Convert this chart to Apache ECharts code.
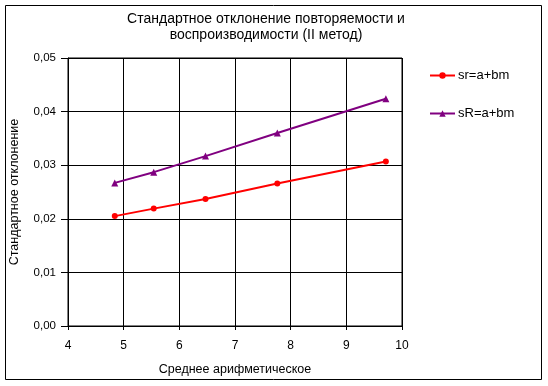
<!DOCTYPE html>
<html><head><meta charset="utf-8">
<script src="https://cdn.jsdelivr.net/npm/echarts@6/dist/echarts.min.js"></script>
<style>html,body{margin:0;padding:0;background:#fff}#c{width:548px;height:386px}</style>
</head><body><div id="c"></div>
<script>
const titleText = 'Стандартное отклонение повторяемости и\nвоспроизводимости (II метод)';
const xName = 'Среднее арифметическое';
const yName = 'Стандартное отклонение';
const xValues = [4.84, 5.54, 6.47, 7.76, 9.71];
const srValues = [0.0205, 0.0219, 0.0237, 0.0266, 0.0307];
const sRValues = [0.0267, 0.0287, 0.0317, 0.0360, 0.0424];
const seriesNames = ['sr=a+bm', 'sR=a+bm'];

const font = 'Arial, "Liberation Sans", sans-serif';
const chart = echarts.init(document.getElementById('c'), null, {renderer:'canvas'});
chart.setOption({
  animation:false,
  backgroundColor:'#fff',
  title:{text:titleText, left:261, top:6, textAlign:'center',
    textStyle:{fontFamily:font, fontSize:14, fontWeight:'normal', color:'#000', lineHeight:16}},
  legend:{orient:'vertical', left:424, top:64, itemGap:25, itemWidth:25, itemHeight:8,
    textStyle:{fontFamily:font, fontSize:13, color:'#000', padding:[0,0,0,-2]},
    data:[{name:seriesNames[0]},{name:seriesNames[1]}]},
  graphic:[{type:'rect', shape:{x:5.5,y:5.5,width:536,height:374}, style:{fill:'none', stroke:'#000', lineWidth:1}, z:-1}],
  grid:{left:65, right:146, top:58, bottom:60, show:true, borderColor:'#000', borderWidth:1},
  xAxis:{type:'value', min:4, max:10, interval:1, name:xName, nameLocation:'middle', nameGap:37,
    nameTextStyle:{fontFamily:font, fontSize:12.5, color:'#000'},
    axisLine:{show:true, lineStyle:{color:'#000'}}, axisTick:{show:true, length:4, lineStyle:{color:'#000'}},
    axisLabel:{fontFamily:font, fontSize:12, color:'#000', margin:14},
    splitLine:{show:true, lineStyle:{color:'#000', width:1}}},
  yAxis:{type:'value', min:0, max:0.05, interval:0.01, name:yName, nameLocation:'middle', nameGap:47,
    nameTextStyle:{fontFamily:font, fontSize:12.5, color:'#000'},
    axisLine:{show:true, lineStyle:{color:'#000'}}, axisTick:{show:true, length:7, lineStyle:{color:'#000'}},
    axisLabel:{fontFamily:font, fontSize:11.5, color:'#000', margin:12, formatter:v=>v.toFixed(2).replace('.',',')},
    splitLine:{show:true, lineStyle:{color:'#000', width:1}}},
  series:[
    {name:seriesNames[0], type:'line', data:xValues.map((x,i)=>[x,srValues[i]]),
      symbol:'circle', symbolSize:6, itemStyle:{color:'#ff0000'}, lineStyle:{color:'#ff0000', width:2}},
    {name:seriesNames[1], type:'line', data:xValues.map((x,i)=>[x,sRValues[i]]),
      symbol:'triangle', symbolSize:7, itemStyle:{color:'#800080'}, lineStyle:{color:'#800080', width:2}}
  ]
});
</script></body></html>
